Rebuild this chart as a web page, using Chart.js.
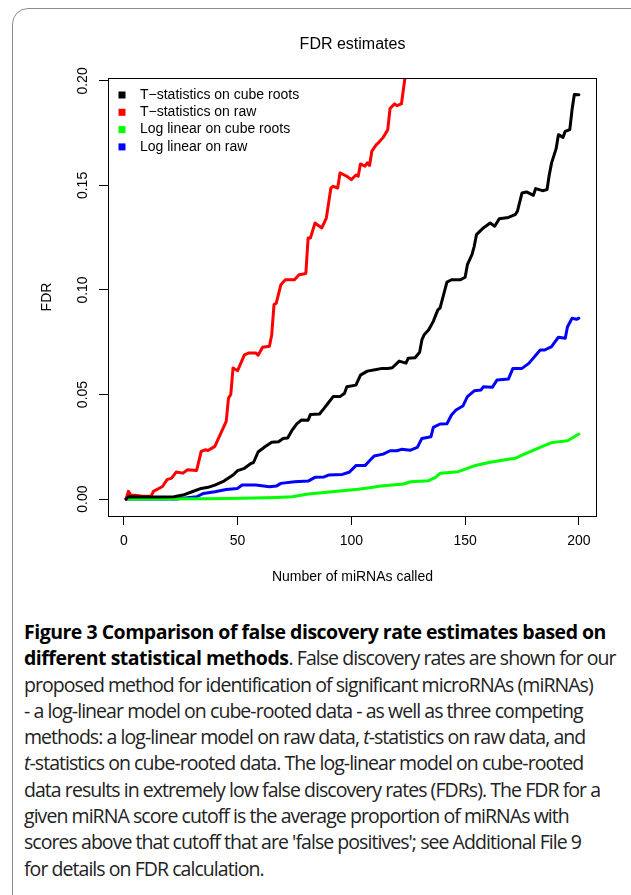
<!DOCTYPE html>
<html>
<head>
<meta charset="utf-8">
<script src="https://cdn.jsdelivr.net/npm/chart.js@4/dist/chart.umd.min.js"></script>
<style>
  body { margin: 0; background: #fff; width: 631px; height: 895px; overflow: hidden; position: relative; }
  #frame { position: absolute; left: 12px; top: 8px; width: 700px; height: 1000px; border: 1px solid #8c8c8c; border-radius: 16px; }
  #chart-container { position: absolute; left: 0; top: 0; width: 631px; height: 600px; }
  #caption { position: absolute; left: 24px; top: 619px; font-family: "Open Sans", sans-serif; font-size: 19.5px; letter-spacing: -0.95px; line-height: 26.3px; color: #222; white-space: nowrap; }
  #caption b { color: #000; letter-spacing: -0.5px; }
</style>
</head>
<body>
<div id="frame"></div>
<div id="chart-container"><canvas id="chart"></canvas></div>
<div id="caption"><b>Figure 3 Comparison of false discovery rate estimates based on<br>different statistical methods</b>. False discovery rates are shown for our<br>proposed method for identification of significant microRNAs (miRNAs)<br>- a log-linear model on cube-rooted data - as well as three competing<br>methods: a log-linear model on raw data, <i>t</i>-statistics on raw data, and<br><i>t</i>-statistics on cube-rooted data. The log-linear model on cube-rooted<br>data results in extremely low false discovery rates (FDRs). The FDR for a<br>given miRNA score cutoff is the average proportion of miRNAs with<br>scores above that cutoff that are 'false positives'; see Additional File 9<br>for details on FDR calculation.</div>
<script>
// series labels and colours (legend order)
const seriesNames = ["T\u2212statistics on cube roots", "T\u2212statistics on raw", "Log linear on cube roots", "Log linear on raw"]
const seriesColors = ["#000000", "#ff0000", "#00ff00", "#0000ff"]

// T-statistics on cube roots
const tCubeX = [1,2,8,15,22,26,30,34,37,40,44,48,50,53,56,57,59,62,65,68,70,72,74,76,78,81,82,86,88,90,92,95,97,98,102,104,107,111,113,116,118,121,124,125,128,130,131,132,134,136,138,139,142,144,148,150,151,153,154,155,158,161,163,165,169,172,173,175,177,180,181,184,186,187,188,190,191,193,194,196,197,198,200]
const tCubeY = [0,0.0011,0.001,0.001,0.0011,0.0019,0.0035,0.0051,0.0056,0.0067,0.0086,0.0115,0.0136,0.0147,0.0171,0.0175,0.0225,0.025,0.0272,0.0274,0.029,0.0292,0.033,0.036,0.0378,0.0377,0.0405,0.0407,0.0434,0.0462,0.049,0.049,0.0506,0.0537,0.0545,0.0593,0.0612,0.062,0.0624,0.0625,0.0628,0.066,0.065,0.0674,0.0676,0.0702,0.0761,0.0786,0.081,0.085,0.0905,0.0914,0.1038,0.1049,0.1049,0.1061,0.1121,0.1169,0.1209,0.1265,0.1297,0.132,0.1305,0.1341,0.1347,0.136,0.1377,0.1464,0.1469,0.1453,0.1485,0.1475,0.148,0.1552,0.1608,0.1676,0.1743,0.173,0.1759,0.1767,0.1863,0.1935,0.1934]

// T-statistics on raw
const tRawX = [1,2,3,5,8,12,13,17,19,21,23,26,28,32,34,36,37,40,42,43,45,46,47,48,50,53,55,58,59,61,64,65,66,67,69,71,75,77,79,80,81,82,84,87,89,91,92,94,95,98,100,102,103,104,106,107,108,109,111,112,114,116,117,119,120,122,124,126]
const tRawY = [0,0.0037,0.002,0.0018,0.0014,0.0014,0.0037,0.006,0.0093,0.01,0.0129,0.0124,0.014,0.0137,0.0228,0.0236,0.0232,0.0252,0.03,0.0324,0.0372,0.0483,0.05,0.0627,0.0614,0.069,0.0699,0.0699,0.0688,0.0726,0.0731,0.0786,0.093,0.0937,0.1025,0.1049,0.1049,0.1073,0.1076,0.108,0.1249,0.1249,0.132,0.1297,0.1344,0.1488,0.1496,0.1488,0.156,0.1544,0.1528,0.155,0.1544,0.1603,0.1592,0.1608,0.1596,0.1664,0.1695,0.1705,0.173,0.1767,0.1868,0.189,0.1882,0.189,0.205,0.215]

// Log linear on cube roots
const llCubeX = [1,37,52,67,74,81,87,96,103,108,113,123,126,134,137,139,147,154,161,169,172,176,183,188,195,200]
const llCubeY = [0,0.0002,0.0004,0.0008,0.0011,0.0024,0.003,0.004,0.0047,0.0054,0.0062,0.0072,0.0083,0.0088,0.0104,0.0123,0.0131,0.0159,0.0176,0.019,0.0195,0.0215,0.0247,0.027,0.0279,0.0311]

// Log linear on raw
const llRawX = [1,23,29,32,35,40,45,50,52,58,64,67,69,75,81,84,88,90,96,99,102,106,108,110,114,117,120,122,126,129,131,135,136,139,142,144,146,149,151,154,157,158,162,164,169,171,175,178,183,185,188,189,191,194,195,197,199,200]
const llRawY = [0,0,0.0008,0.0011,0.0027,0.0035,0.0046,0.0051,0.0067,0.0067,0.0059,0.0062,0.0075,0.0083,0.0086,0.0104,0.0106,0.0115,0.0118,0.0128,0.016,0.016,0.0183,0.0206,0.0215,0.0231,0.0231,0.0238,0.0234,0.0247,0.029,0.0298,0.0343,0.0359,0.036,0.0402,0.0426,0.0445,0.049,0.0518,0.0522,0.0537,0.0535,0.0569,0.0574,0.0625,0.0625,0.0649,0.0713,0.0713,0.0729,0.0745,0.0774,0.0769,0.0824,0.0865,0.086,0.0865]

// axis ticks
const xTicks = [0, 50, 100, 150, 200]
const yTicks = [0, 0.05, 0.10, 0.15, 0.20]

const seriesX = [tCubeX, tRawX, llCubeX, llRawX]
const seriesY = [tCubeY, tRawY, llCubeY, llRawY]

Chart.defaults.font.family = "'Liberation Sans', Arial, sans-serif"
Chart.defaults.color = "#000"

function toPoints(xs, ys){
    return xs.map((x, i) => ({x: x, y: ys[i]}))
}

// R style box round the plot plus the top-left legend
const boxAndLegend = {
    id: "boxAndLegend",
    afterDatasetsDraw(chart){
        const ctx = chart.ctx
        const a = chart.chartArea
        ctx.save()
        ctx.strokeStyle = "#000"
        ctx.lineWidth = 1
        ctx.strokeRect(Math.round(a.left) + 0.5, Math.round(a.top) + 0.5, Math.round(a.right - a.left) - 1, Math.round(a.bottom - a.top))
        ctx.font = "14px 'Liberation Sans', Arial, sans-serif"
        ctx.textBaseline = "middle"
        ctx.textAlign = "left"
        chart.data.datasets.forEach((ds, i) => {
            const y = a.top + 17 + i * 17.3
            ctx.fillStyle = ds.borderColor
            ctx.fillRect(a.left + 10.5, y - 3.5, 7, 7)
            ctx.fillStyle = "#000"
            ctx.fillText(ds.label, a.left + 32, y)
        })
        ctx.restore()
    }
}

const context = document.getElementById("chart").getContext("2d")

const newChart = new Chart(context, {
    type: "line",
    data: {
        datasets: seriesNames.map((name, i) => ({
            label: name,
            data: toPoints(seriesX[i], seriesY[i]),
            borderColor: seriesColors[i],
            backgroundColor: seriesColors[i],
            borderWidth: 3,
            pointRadius: 0,
            tension: 0,
            borderJoinStyle: "round",
            borderCapStyle: "round",
            fill: false
        }))
    },
    options: {
        responsive: true,
        maintainAspectRatio: false,
        animation: false,
        events: [],
        layout: { padding: { top: 0, left: 0, right: 34, bottom: 0 } },
        plugins: {
            legend: { display: false },
            tooltip: { enabled: false },
            title: {
                display: true,
                text: "FDR estimates",
                fullSize: false,
                font: { size: 16, weight: "normal" },
                color: "#000",
                padding: { top: 35.4, bottom: 23.4 }
            }
        },
        scales: {
            x: {
                type: "linear",
                min: -6.96,
                max: 207.96,
                afterBuildTicks: s => { s.ticks = xTicks.map(v => ({value: v})) },
                afterFit: s => { s.height = 84 },
                grid: { drawOnChartArea: false, drawTicks: true, tickLength: 9, color: "#000" },
                border: { display: false },
                ticks: { font: { size: 14 }, padding: 8, maxRotation: 0, autoSkip: false, callback: v => String(v) },
                title: { display: true, text: "Number of miRNAs called", font: { size: 14 }, padding: { top: 0, bottom: 14.6 } }
            },
            y: {
                type: "linear",
                min: -0.0081,
                max: 0.2014,
                afterBuildTicks: s => { s.ticks = yTicks.map(v => ({value: v})) },
                afterFit: s => { s.width = 108 },
                grid: { drawOnChartArea: false, drawTicks: true, tickLength: 9, color: "#000" },
                border: { display: false },
                ticks: { font: { size: 14 }, padding: 2, minRotation: 90, maxRotation: 90, crossAlign: "center", autoSkip: false, callback: v => v.toFixed(2) },
                title: { display: true, text: "FDR", font: { size: 14 }, padding: { top: 38.6, bottom: 0 } }
            }
        }
    },
    plugins: [boxAndLegend]
})
</script>
</body>
</html>
